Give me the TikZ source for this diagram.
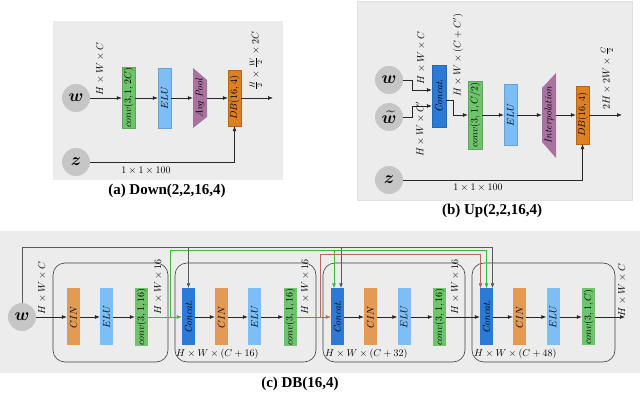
\documentclass[tikz,border=0pt]{standalone}
\usepackage{amsmath,amssymb,bm}
\usepackage{fontspec}
\usetikzlibrary{arrows.meta,positioning,calc}
\newfontfamily\capfont{Liberation Serif}
\definecolor{panelgray}{HTML}{ECECEC}
\definecolor{circgray}{HTML}{C6C6C6}
\definecolor{convg}{HTML}{6DC46B}
\definecolor{elub}{HTML}{7DBEF7}
\definecolor{poolp}{HTML}{A8739F}
\definecolor{dbo}{HTML}{DF7F22}
\definecolor{cino}{HTML}{E29A55}
\definecolor{catb}{HTML}{2C7AD4}
\definecolor{skipg}{HTML}{3CB83C}
\definecolor{skipr}{HTML}{B8665A}

\begin{document}
\begin{tikzpicture}[x=1pt,y=-1pt,
  layer/.style={rectangle, rotate=90, inner sep=0pt, minimum height=13pt, font=\normalsize},
  circ/.style={circle, fill=circgray, minimum size=28pt, inner sep=0pt, font=\fontsize{16}{18}\selectfont},
  blk/.style={rectangle, draw=black!75, rounded corners=12pt, line width=0.6pt},
  lbl/.style={inner sep=0pt, font=\normalsize},
  captxt/.style={inner sep=0pt, font=\fontsize{15}{17}\selectfont\capfont\bfseries},
  arr/.style={-{Latex[length=5pt,width=4pt]}, line width=0.7pt, black!85},
  karr/.style={-{Latex[length=5pt,width=4pt]}, line width=0.9pt, black!65},
  garr/.style={-{Latex[length=5pt,width=4pt]}, line width=0.7pt, skipg},
  rarr/.style={-{Latex[length=5pt,width=4pt]}, line width=0.7pt, skipr}
]
  \useasboundingbox (0,0) rectangle (640,395);

  % (a) Down
  \fill[panelgray] (53,21) rectangle (283,180);
  \node[circ] (wa) at (76,98) {$\bm{w}$};
  \node[circ] (za) at (76,162) {$\bm{z}$};
  \node[layer, fill=convg, draw=convg!85!black, minimum width=61pt] (cva) at (128.5,98) {$conv(3,1,2C)$};
  \node[layer, fill=elub, draw=elub!85!black, minimum width=60pt] (elua) at (164.5,98) {$ELU$};
  \fill[poolp] (193,68) -- (207,80) -- (207,117) -- (193,128) -- cycle;
  \node[layer, minimum width=60pt, minimum height=14pt] (poola) at (200,98) {\textit{Avg Pool}};
  \node[layer, fill=dbo, draw=dbo!80!black, minimum width=56pt] (dba) at (234.5,98) {$DB(16,4)$};
  \coordinate (outa) at (273,98);
  \draw[arr] (wa) -- (cva);
  \draw[arr] (cva) -- (elua);
  \draw[arr] (elua) -- (poola);
  \draw[arr] (poola) -- (dba);
  \draw[arr] (dba) -- (outa);
  \draw[arr] (za) -| (dba);
  \node[lbl, rotate=90] (la1) at (100,69) {$H\times W\times C$};
  \node[lbl, rotate=90] (la2) at (256,61) {$\frac{H}{2}\times\frac{W}{2}\times 2C$};
  \node[lbl] (la3) at (146,171) {$1\times 1\times 100$};
  \node[captxt] (capa) at (167,191) {(a) Down(2,2,16,4)};

  % (b) Up
  \filldraw[panelgray, draw=black!12] (357,1) rectangle (632,200);
  \node[circ] (wb) at (389,80) {$\bm{w}$};
  \node[circ] (wtb) at (389,117) {$\bm{\widetilde{w}}$};
  \node[circ] (zb) at (389,180) {$\bm{z}$};
  \node[layer, fill=catb, draw=catb!85!black, minimum width=62pt, minimum height=14pt] (catb) at (439,96) {\textit{Concat.}};
  \node[layer, fill=convg, draw=convg!85!black, minimum width=68pt, minimum height=14pt] (convb) at (475,115) {$conv(3,1,C/2)$};
  \node[layer, fill=elub, draw=elub!85!black, minimum width=61pt] (elub) at (510.5,115) {$ELU$};
  \fill[poolp] (542,88) -- (556,73) -- (556,158) -- (542,142) -- cycle;
  \node[layer, minimum width=54pt, minimum height=14pt] (interb) at (549,115) {\textit{Interpolation}};
  \node[layer, fill=dbo, draw=dbo!80!black, minimum width=58pt] (dbb) at (582.5,115) {$DB(16,4)$};
  \coordinate (outb) at (622,115);
  \draw[arr] (wb) -- (412,80) |- ([yshift=6pt]catb.north);
  \draw[arr] (wtb) -- (412,117) |- ([yshift=-10pt]catb.north);
  \draw[arr] ([yshift=-4pt]catb.south) -| (453,115) -- (convb);
  \draw[arr] (convb) -- (elub);
  \draw[arr] (elub) -- (interb);
  \draw[arr] (interb) -- (dbb);
  \draw[arr] (dbb) -- (outb);
  \draw[arr] (zb) -| (dbb);
  \node[lbl, rotate=90] (lb1) at (421,58) {$H\times W\times C$};
  \node[lbl, rotate=90] (lb2) at (420,129) {$H\times W\times C'$};
  \node[lbl, rotate=90] (lb3) at (458,55) {$H\times W\times (C+C')$};
  \node[lbl, rotate=90] (lb4) at (607,78) {$2H\times 2W\times\frac{C}{2}$};
  \node[lbl] (lb5) at (478,188) {$1\times 1\times 100$};
  \node[captxt] (capb) at (492,211) {(b) Up(2,2,16,4)};

  % (c) DB
  \fill[panelgray] (0,231) rectangle (640,373);
  \node[blk, minimum width=115pt, minimum height=99pt] (blk1) at (110.5,312.5) {};
  \node[blk, minimum width=141pt, minimum height=99pt] (blk2) at (245.5,312.5) {};
  \node[blk, minimum width=142pt, minimum height=99pt] (blk3) at (394,312.5) {};
  \node[blk, minimum width=143pt, minimum height=99pt] (blk4) at (543.5,312.5) {};
  \node[circ] (wc) at (22,317) {$\bm{w}$};

  \node[layer, fill=cino, minimum width=57pt] (cin1) at (73.5,317) {$CIN$};
  \node[layer, fill=elub, minimum width=57pt] (elu1) at (106.5,317) {$ELU$};
  \node[layer, fill=convg, minimum width=57pt] (cv1) at (141.5,317) {$conv(3,1,16)$};

  \node[layer, fill=catb, minimum width=57pt] (cat2) at (188.5,317) {\textit{Concat.}};
  \node[layer, fill=cino, minimum width=57pt] (cin2) at (221.5,317) {$CIN$};
  \node[layer, fill=elub, minimum width=57pt] (elu2) at (254.5,317) {$ELU$};
  \node[layer, fill=convg, minimum width=57pt] (cv2) at (290,317) {$conv(3,1,16)$};

  \node[layer, fill=catb, minimum width=57pt] (cat3) at (337.5,317) {\textit{Concat.}};
  \node[layer, fill=cino, minimum width=57pt] (cin3) at (370.5,317) {$CIN$};
  \node[layer, fill=elub, minimum width=57pt] (elu3) at (404,317) {$ELU$};
  \node[layer, fill=convg, minimum width=57pt] (cv3) at (439.5,317) {$conv(3,1,16)$};

  \node[layer, fill=catb, minimum width=57pt] (cat4) at (486.5,317) {\textit{Concat.}};
  \node[layer, fill=cino, minimum width=57pt] (cin4) at (519.5,317) {$CIN$};
  \node[layer, fill=elub, minimum width=57pt] (elu4) at (553,317) {$ELU$};
  \node[layer, fill=convg, minimum width=57pt] (cv4) at (588.5,317) {$conv(3,1,C)$};
  \coordinate (outc) at (625,317);

  % skip connections
  \draw[karr] (wc.north) -- (wc.north |- 0,247) -| (cat2.east);
  \draw[karr] (wc.north) -- (wc.north |- 0,247) -| ([xshift=3.5pt]cat3.east);
  \draw[karr] (wc.north) -- (wc.north |- 0,247) -| ([xshift=6pt]cat4.east);
  \draw[garr] (cv1.south) -| (170,250) -| ([xshift=-3.5pt]cat3.east);
  \draw[garr] (cv1.south) -| (170,250) -| (cat4.east);
  \draw[rarr] (cv2.south) -| (320,254) -| ([xshift=-6pt]cat4.east);

  \draw[arr] (wc) -- (cin1);
  \draw[arr] (cin1) -- (elu1);
  \draw[arr] (elu1) -- (cv1);
  \draw[garr] (cv1) -- (cat2);
  \draw[arr] (cat2) -- (cin2);
  \draw[arr] (cin2) -- (elu2);
  \draw[arr] (elu2) -- (cv2);
  \draw[rarr] (cv2) -- (cat3);
  \draw[arr] (cat3) -- (cin3);
  \draw[arr] (cin3) -- (elu3);
  \draw[arr] (elu3) -- (cv3);
  \draw[arr] (cv3) -- (cat4);
  \draw[arr] (cat4) -- (cin4);
  \draw[arr] (cin4) -- (elu4);
  \draw[arr] (elu4) -- (cv4);
  \draw[arr] (cv4) -- (outc);

  \node[lbl, rotate=90] (lc1) at (42,288) {$H\times W\times C$};
  \node[lbl, rotate=90] (lc2) at (158,287) {$H\times W\times 16$};
  \node[lbl, rotate=90] (lc3) at (305,287) {$H\times W\times 16$};
  \node[lbl, rotate=90] (lc4) at (455,287) {$H\times W\times 16$};
  \node[lbl, rotate=90] (lc5) at (622,290) {$H\times W\times C$};
  \node[lbl, anchor=west] (lc6) at (176,354) {$H\times W\times (C+16)$};
  \node[lbl, anchor=west] (lc7) at (325,354) {$H\times W\times (C+32)$};
  \node[lbl, anchor=west] (lc8) at (474,354) {$H\times W\times (C+48)$};
  \node[captxt] (capc) at (300,384) {(c) DB(16,4)};
\end{tikzpicture}
\end{document}
